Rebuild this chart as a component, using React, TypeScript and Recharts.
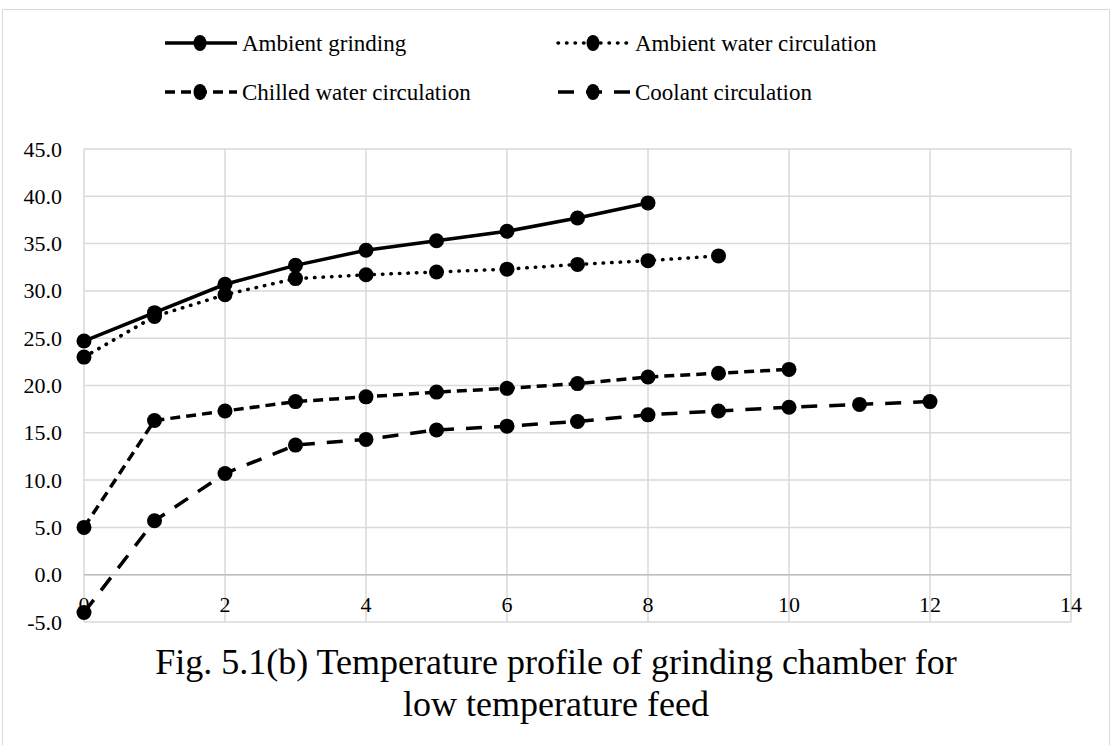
import { LineChart, Line, XAxis, YAxis, CartesianGrid, ReferenceLine } from 'recharts';

const FONT = "'Liberation Serif', 'Times New Roman', serif";

// time (x axis)
const xValues = [0, 1, 2, 3, 4, 5, 6, 7, 8, 9, 10, 11, 12];

const ambientGrinding = [24.7, 27.7, 30.7, 32.7, 34.3, 35.3, 36.3, 37.7, 39.3];
const ambientWater = [23.0, 27.3, 29.6, 31.3, 31.7, 32.0, 32.3, 32.8, 33.2, 33.7];
const chilledWater = [5.0, 16.3, 17.3, 18.3, 18.8, 19.3, 19.7, 20.2, 20.9, 21.3, 21.7];
const coolant = [-4.0, 5.7, 10.7, 13.7, 14.3, 15.3, 15.7, 16.2, 16.9, 17.3, 17.7, 18.0, 18.3];

const xTicks = [0, 2, 4, 6, 8, 10, 12, 14];
const yTicks = [-5, 0, 5, 10, 15, 20, 25, 30, 35, 40, 45];

const series = [
    { key: 'ambientGrinding', name: 'Ambient grinding', dash: undefined as string | undefined, cap: 'butt' },
    { key: 'ambientWater', name: 'Ambient water circulation', dash: '0.5 8', cap: 'round' },
    { key: 'chilledWater', name: 'Chilled water circulation', dash: '10 6', cap: 'butt' },
    { key: 'coolant', name: 'Coolant circulation', dash: '16 12', cap: 'butt' },
];

const data = xValues.map((x, i) => ({
    x,
    ambientGrinding: ambientGrinding[i],
    ambientWater: ambientWater[i],
    chilledWater: chilledWater[i],
    coolant: coolant[i],
}));

// eslint-disable-next-line @typescript-eslint/no-explicit-any
function renderDot(props: any) {
    const { cx, cy, key, value } = props;
    if (value == null || cx == null || cy == null) return <g key={key} />;
    return <circle key={key} cx={cx} cy={cy} r={7.5} fill="#000" />;
}

// eslint-disable-next-line @typescript-eslint/no-explicit-any
function XTick(props: any) {
    const { x, y, payload } = props;
    return (
        <text x={x} y={y - 10} textAnchor="middle" style={{ fontFamily: FONT, fontSize: 22 }} fill="#000">
            {payload.value}
        </text>
    );
}

// eslint-disable-next-line @typescript-eslint/no-explicit-any
function YTick(props: any) {
    const { x, y, payload } = props;
    return (
        <text x={x} y={y} textAnchor="end" dominantBaseline="central" style={{ fontFamily: FONT, fontSize: 22 }} fill="#000">
            {Number(payload.value).toFixed(1)}
        </text>
    );
}

function LegendBox() {
    const cols = [165, 558];
    const rows = [43, 92];
    return (
        <svg width={1112} height={120} style={{ position: 'absolute', left: 0, top: 0 }}>
            {series.map((s, i) => {
                const x0 = cols[i % 2];
                const y = rows[Math.floor(i / 2)];
                return (
                    <g key={s.key}>
                        <line
                            x1={x0}
                            y1={y}
                            x2={x0 + 72}
                            y2={y}
                            stroke="#000"
                            strokeWidth={3.5}
                            strokeDasharray={s.dash}
                            strokeLinecap={s.cap as 'butt' | 'round'}
                        />
                        <ellipse cx={x0 + 35} cy={y} rx={6.5} ry={8} fill="#000" />
                        <text
                            x={x0 + 77}
                            y={y}
                            dominantBaseline="central"
                            style={{ fontFamily: FONT, fontSize: 23 }}
                            fill="#000"
                        >
                            {s.name}
                        </text>
                    </g>
                );
            })}
        </svg>
    );
}

export default function App() {
    return (
        <div style={{ position: 'absolute', left: 0, top: 0, width: 1112, height: 745, overflow: 'hidden', background: '#fff' }}>
            <div
                style={{
                    position: 'absolute',
                    left: 2,
                    top: 9,
                    width: 1106,
                    height: 745,
                    border: '1.5px solid #d9d9d9',
                }}
            />
            <LegendBox />
            <div style={{ position: 'absolute', left: 0, top: 0 }}>
                <LineChart
                    width={1112}
                    height={745}
                    data={data}
                    margin={{ top: 149, right: 41, bottom: 93, left: 4 }}
                >
                    <CartesianGrid stroke="#d9d9d9" strokeWidth={1.5} horizontalValues={yTicks} verticalValues={xTicks} />
                    <XAxis
                        dataKey="x"
                        type="number"
                        domain={[0, 14]}
                        ticks={xTicks}
                        axisLine={false}
                        tickLine={false}
                        tickSize={0}
                        tickMargin={0}
                        height={30}
                        tick={<XTick />}
                        interval={0}
                    />
                    <YAxis
                        type="number"
                        domain={[-5, 45]}
                        ticks={yTicks}
                        axisLine={false}
                        tickLine={false}
                        tickSize={0}
                        tickMargin={22}
                        width={80}
                        interval={0}
                        tick={<YTick />}
                    />
                    <ReferenceLine y={0} stroke="#bfbfbf" strokeWidth={1.5} />
                    {series.map((s) => (
                        <Line
                            key={s.key}
                            dataKey={s.key}
                            name={s.name}
                            type="linear"
                            stroke="#000"
                            strokeWidth={3.5}
                            strokeDasharray={s.dash}
                            strokeLinecap={s.cap as 'butt' | 'round'}
                            dot={renderDot}
                            activeDot={false}
                            isAnimationActive={false}
                        />
                    ))}
                </LineChart>
            </div>
            <div
                style={{
                    position: 'absolute',
                    left: 0,
                    top: 641,
                    width: 1112,
                    textAlign: 'center',
                    fontFamily: FONT,
                    fontSize: 36,
                    lineHeight: '42px',
                    color: '#000',
                }}
            >
                Fig. 5.1(b) Temperature profile of grinding chamber for
                <br />
                low temperature feed
            </div>
        </div>
    );
}
